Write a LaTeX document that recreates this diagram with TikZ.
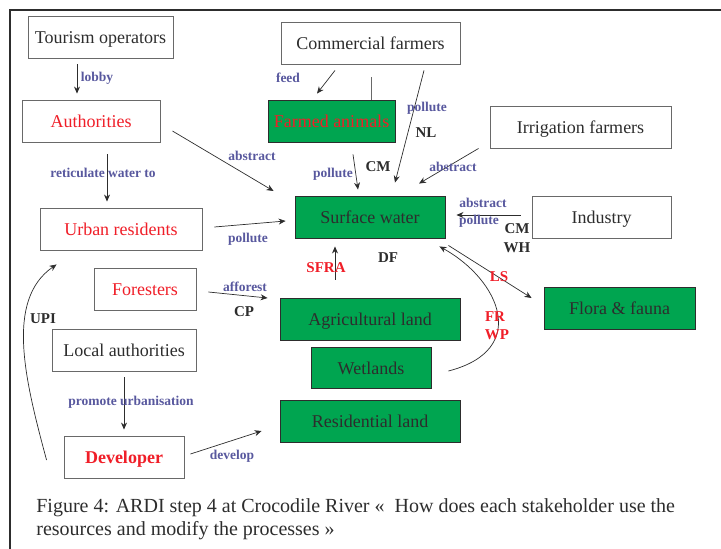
\documentclass[tikz,border=0pt]{standalone}
\usepackage{fontspec}
\setmainfont{Liberation Serif}
\usetikzlibrary{arrows.meta}
\definecolor{landgreen}{RGB}{0,165,80}
\definecolor{boxgray}{RGB}{105,105,105}
\definecolor{txtgray}{RGB}{45,45,45}
\definecolor{actred}{RGB}{240,30,40}
\definecolor{lblblue}{RGB}{88,88,158}

\begin{document}
\begin{tikzpicture}[x=1pt,y=-1pt,line width=0.7pt,>=Stealth,
  box/.style={draw=boxgray,line width=0.9pt,fill=white,minimum height=42pt,inner sep=0pt,
    text height=13pt,text depth=0pt,text=txtgray,font=\fontsize{18}{20}\selectfont},
  res/.style={box,fill=landgreen,draw=txtgray},
  actor/.style={text=actred},
  lbl/.style={text=lblblue,inner sep=0pt,font=\bfseries\fontsize{13.5}{15}\selectfont},
  code/.style={lbl,text=txtgray,font=\bfseries\fontsize{15}{17}\selectfont},
  redcode/.style={code,text=actred},
  link/.style={->,draw=txtgray,>={Stealth[length=7pt,width=6pt]}}]
\useasboundingbox (0,0) rectangle (721,549);
% ---------- page frame ----------
\draw[line width=2pt,txtgray] (10,549) -- (10,10) -- (721,10);
% ---------- stakeholders ----------
\node[box,minimum width=145pt] (tour) at (100.5,37) {Tourism operators};
\node[box,minimum width=179pt] (comm) at (370.5,43) {Commercial farmers};
\node[box,actor,minimum width=138pt] (auth) at (91,121) {Authorities};
\node[box,minimum width=181pt] (irr) at (580.5,127) {Irrigation farmers};
\node[box,minimum width=139pt] (ind) at (601.5,217) {Industry};
\node[box,actor,minimum width=162pt] (urban) at (121,229) {Urban residents};
\node[box,actor,minimum width=102pt] (forest) at (145,289) {Foresters};
\node[box,minimum width=144pt] (local) at (124,350) {Local authorities};
\node[box,actor,minimum width=120pt,font=\bfseries\fontsize{18}{20}\selectfont] (dev) at (124,457) {Developer};
% ---------- resources ----------
\node[res,actor,minimum width=127pt] (farm) at (331.5,121) {Farmed animals};
\node[res,minimum width=150pt] (surf) at (370,217) {Surface water};
\node[res,minimum width=180pt] (agri) at (370,319) {Agricultural land};
\node[res,minimum width=151pt] (flora) at (619.5,308) {Flora \& fauna};
\node[res,minimum width=120pt,minimum height=41pt] (wet) at (371,367.5) {Wetlands};
\node[res,minimum width=180pt] (resid) at (370,421) {Residential land};
% ---------- links ----------
\draw[link] ([shift={(-23.5,6)}]tour.south) -- ([shift={(-14,-6)}]auth.north);
\draw[link] ([shift={(-35.5,6)}]comm.south) -- ([shift={(-14.5,-6)}]farm.north);
\draw[draw=boxgray] ([shift={(0.5,13)}]comm.south) -- ([shift={(39.5,0)}]farm.north);
\draw[link] ([shift={(53.5,6)}]comm.south) -- ([shift={(25,-13)}]surf.north);
\draw[link] ([shift={(21.5,12)}]farm.south) -- ([shift={(-12,-6)}]surf.north);
\draw[link] ([shift={(12,10)}]auth.east) -- ([shift={(-21,-26)}]surf.west);
\draw[link] ([shift={(-11,0)}]irr.south west) -- ([shift={(49,-12)}]surf.north);
\draw[link] ([shift={(-11,-2)}]ind.west) -- ([shift={(11,-2)}]surf.east);
\draw[link] ([shift={(12,-2)}]urban.east) -- ([shift={(-9,4)}]surf.west);
\draw[link] ([shift={(16,12)}]auth.south) -- ([shift={(-14,-6)}]urban.north);
\draw[link] ([shift={(-35,-18)}]agri.north) -- ([shift={(-35,8)}]surf.south);
\draw[link] ([shift={(3,7)}]surf.south east) -- ([shift={(-12,-10)}]flora.west);
\draw[link] ([shift={(17,3.5)}]wet.east) .. controls (530,350) and (500,280) .. ([shift={(-6,8)}]surf.south east);
\draw[link] ([shift={(12,3)}]forest.east) -- ([shift={(-12,-21)}]agri.west);
\draw[link] ([shift={(0,6)}]local.south) -- ([shift={(0,-6)}]dev.north);
\draw[link] ([shift={(6,-3)}]dev.east) -- ([shift={(-18,10)}]resid.west);
\draw[link] ([shift={(-17,3)}]dev.west) .. controls (25,380) and (5,300) .. ([shift={(17,14)}]urban.south west);
% ---------- link labels ----------
\node[lbl] (lobby) at (97,78) {lobby};
\node[lbl] (feed) at (288,78) {feed};
\node[lbl] (pollNL) at (427,108) {pollute};
\node[code] (nl) at (426,133) {NL};
\node[lbl] (pollCM) at (333,174) {pollute};
\node[code] (cmFarm) at (378,167) {CM};
\node[lbl] (absAuth) at (252,156) {abstract};
\node[lbl] (absIrr) at (453,167) {abstract};
\node[lbl] (absInd) at (483,203) {abstract};
\node[lbl] (pollInd) at (479,221) {pollute};
\node[code] (cmInd) at (517,229) {CM};
\node[code] (wh) at (517,248) {WH};
\node[lbl] (pollUrb) at (248,239) {pollute};
\node[lbl] (retic) at (103,173) {reticulate water to};
\node[redcode] (sfra) at (326,268) {SFRA};
\node[code] (df) at (388,258) {DF};
\node[redcode] (ls) at (499,277) {LS};
\node[redcode] (fr) at (495,317) {FR};
\node[redcode] (wp) at (497,335) {WP};
\node[lbl] (affor) at (245,287) {afforest};
\node[code] (cp) at (244,312) {CP};
\node[lbl] (promo) at (131,402) {promote urbanisation};
\node[lbl] (devel) at (232,456) {develop};
\node[code] (upi) at (43,319) {UPI};
% ---------- caption ----------
\node[anchor=west,align=left,inner sep=0pt,text=txtgray,font=\fontsize{20}{23}\selectfont] (caption) at (36,519)
  {Figure 4: ARDI step 4 at Crocodile River «~ How does each stakeholder use the\\
   resources and modify the processes »};
\end{tikzpicture}
\end{document}
